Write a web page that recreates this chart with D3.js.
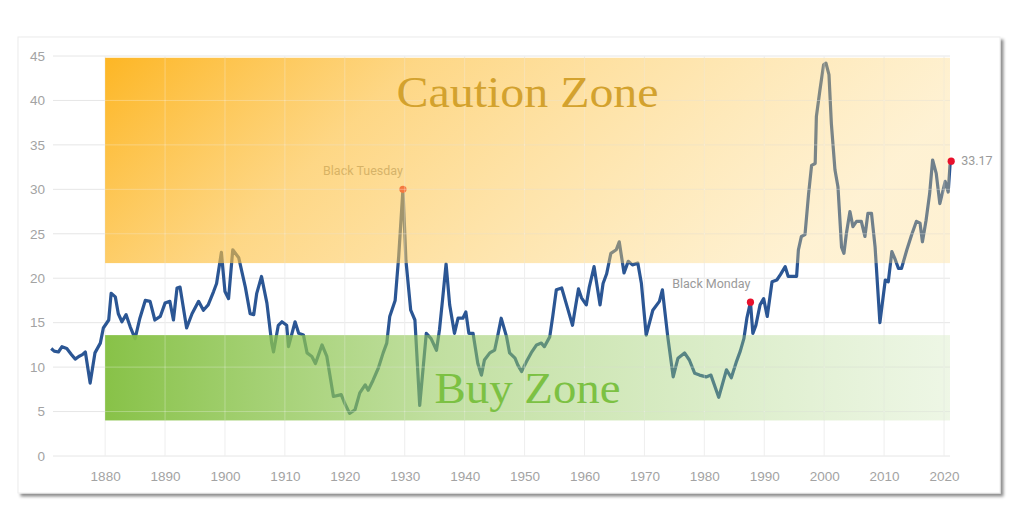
<!DOCTYPE html>
<html>
<head>
<meta charset="utf-8">
<script src="https://cdn.jsdelivr.net/npm/d3@7"></script>
<style>
  body { margin: 0; background: #fff; }
  svg { display: block; }
</style>
</head>
<body>
<script>
// CAPE ratio
var years = [
  1871.0, 1871.5, 1872.2, 1872.8, 1873.6, 1874.4, 1875.0, 1875.6, 1876.2, 1876.7,
  1877.5, 1878.3, 1879.2, 1879.7, 1880.6, 1881.0, 1881.7, 1882.2, 1882.8, 1883.5,
  1884.2, 1885.0, 1885.8, 1886.7, 1887.5, 1888.3, 1889.2, 1890.0, 1890.8, 1891.4,
  1892.0, 1892.5, 1893.6, 1894.5, 1895.6, 1896.4, 1897.2, 1898.1, 1898.6, 1899.4,
  1900.0, 1900.6, 1901.3, 1902.3, 1903.4, 1904.2, 1904.8, 1905.3, 1906.1, 1907.0,
  1907.8, 1908.1, 1908.9, 1909.5, 1910.3, 1910.6, 1911.7, 1912.3, 1913.1, 1913.7,
  1914.5, 1915.1, 1916.2, 1917.0, 1918.1, 1919.4, 1920.0, 1920.8, 1921.7, 1922.5,
  1923.4, 1923.9, 1924.7, 1925.6, 1926.4, 1927.0, 1927.5, 1928.4, 1929.0, 1929.7,
  1930.2, 1931.0, 1931.7, 1932.5, 1933.6, 1934.4, 1935.3, 1935.8, 1936.3, 1936.9,
  1937.5, 1938.3, 1938.9, 1939.7, 1940.2, 1940.7, 1941.4, 1942.2, 1942.8, 1943.3,
  1944.2, 1945.0, 1945.6, 1946.1, 1947.0, 1947.5, 1948.4, 1948.9, 1949.5, 1950.3,
  1951.1, 1952.0, 1952.8, 1953.3, 1954.2, 1954.7, 1955.3, 1956.2, 1957.1, 1958.0,
  1958.5, 1959.0, 1959.5, 1960.3, 1960.8, 1961.6, 1962.6, 1963.1, 1963.7, 1964.4,
  1965.3, 1965.8, 1966.6, 1967.3, 1968.0, 1968.9, 1969.5, 1970.3, 1971.4, 1972.5,
  1973.0, 1973.9, 1974.8, 1975.6, 1976.7, 1977.5, 1978.4, 1979.2, 1980.3, 1981.1,
  1982.4, 1983.7, 1984.5, 1985.3, 1986.0, 1986.6, 1987.1, 1987.7, 1988.1, 1988.6,
  1989.3, 1989.9, 1990.5, 1991.3, 1992.1, 1992.7, 1993.5, 1994.0, 1994.6, 1995.4,
  1995.7, 1996.2, 1996.8, 1997.4, 1997.9, 1998.5, 1998.7, 1999.3, 1999.9, 2000.3,
  2000.8, 2001.2, 2001.8, 2002.3, 2002.9, 2003.3, 2003.7, 2004.3, 2004.8, 2005.4,
  2006.2, 2006.8, 2007.3, 2007.9, 2008.5, 2009.3, 2010.2, 2010.7, 2011.3, 2011.8,
  2012.4, 2012.9, 2013.8, 2014.6, 2015.4, 2016.0, 2016.4, 2017.0, 2017.6, 2018.1,
  2018.7, 2019.3, 2020.2, 2020.7, 2021.0, 2021.2
];
var cape = [
  12.1, 11.8, 11.7, 12.3, 12.1, 11.4, 10.9, 11.2, 11.4, 11.7,
  8.2, 11.6, 12.7, 14.4, 15.3, 18.3, 17.9, 16.0, 15.1, 15.9,
  14.5, 13.2, 15.5, 17.5, 17.4, 15.3, 15.7, 17.2, 17.4, 15.3,
  18.9, 19.0, 14.4, 16.0, 17.4, 16.4, 17.0, 18.5, 19.4, 22.9,
  18.5, 17.7, 23.2, 22.3, 19.0, 16.0, 15.9, 18.3, 20.2, 17.2,
  12.7, 11.7, 14.7, 15.1, 14.7, 12.3, 15.1, 13.8, 13.6, 11.6,
  11.2, 10.4, 12.5, 11.2, 6.7, 6.9, 5.9, 4.8, 5.2, 7.1,
  8.0, 7.4, 8.5, 9.9, 11.6, 12.7, 15.7, 17.5, 22.5, 30.0,
  22.0, 16.4, 15.3, 5.7, 13.8, 13.2, 11.9, 14.2, 17.5, 21.6,
  17.0, 13.8, 15.5, 15.5, 16.2, 13.8, 13.8, 10.4, 9.1, 10.8,
  11.6, 11.9, 13.8, 15.5, 13.4, 11.6, 11.0, 10.2, 9.5, 10.6,
  11.6, 12.5, 12.7, 12.3, 13.4, 15.7, 18.7, 18.9, 16.8, 14.7,
  16.8, 18.8, 17.8, 17.0, 19.0, 21.3, 17.0, 19.4, 20.5, 22.8,
  23.2, 24.1, 20.6, 21.9, 21.5, 21.7, 19.4, 13.6, 16.4, 17.4,
  18.7, 13.4, 8.9, 11.0, 11.6, 10.8, 9.3, 9.1, 8.9, 9.1,
  6.6, 9.7, 8.8, 10.5, 11.8, 13.2, 15.5, 17.3, 13.8, 14.7,
  17.0, 17.7, 15.7, 19.6, 19.8, 20.4, 21.3, 20.2, 20.2, 20.2,
  23.2, 24.7, 24.9, 29.5, 32.7, 32.9, 38.2, 41.2, 44.0, 44.2,
  42.9, 37.4, 32.2, 30.3, 23.5, 22.8, 25.0, 27.5, 25.8, 26.4,
  26.4, 24.7, 27.3, 27.3, 23.5, 15.0, 19.8, 19.6, 23.0, 22.2,
  21.1, 21.1, 23.2, 24.9, 26.4, 26.2, 24.1, 26.5, 29.5, 33.3,
  31.8, 28.4, 30.9, 29.7, 32.7, 33.17
];
var xTicks = [1880, 1890, 1900, 1910, 1920, 1930, 1940, 1950, 1960, 1970, 1980, 1990, 2000, 2010, 2020];
var yTicks = [0, 5, 10, 15, 20, 25, 30, 35, 40, 45];
var events = [
  { label: "Black Tuesday", year: 1929.7, value: 30.0 },
  { label: "Black Monday", year: 1987.7, value: 17.3 }
];
var cautionZone = [1880, 2021, 21.7, 44.8];   // x0, x1, y0, y1
var buyZone = [1880, 2021, 4.0, 13.6];

var width = 1024, height = 515;

var x = d3.scaleLinear().domain([1871.3, 2021]).range([53, 950]);
var y = d3.scaleLinear().domain([0, 45]).range([456, 56]);

var svg = d3.select("body").append("svg")
    .attr("width", width)
    .attr("height", height);

var defs = svg.append("defs");

var shadow = defs.append("filter").attr("id", "shadow")
    .attr("x", "-5%").attr("y", "-5%").attr("width", "110%").attr("height", "115%");
shadow.append("feDropShadow")
    .attr("dx", 3).attr("dy", 3).attr("stdDeviation", 1.8)
    .attr("flood-color", "#000").attr("flood-opacity", 0.45);

var gCaution = defs.append("linearGradient").attr("id", "caution")
    .attr("x1", 0).attr("y1", 0).attr("x2", 1).attr("y2", 0.25);
gCaution.append("stop").attr("offset", "0%").attr("stop-color", "#fdb41e").attr("stop-opacity", 0.97);
gCaution.append("stop").attr("offset", "35%").attr("stop-color", "#fdc040").attr("stop-opacity", 0.64);
gCaution.append("stop").attr("offset", "100%").attr("stop-color", "#fdd67a").attr("stop-opacity", 0.33);

var gBuy = defs.append("linearGradient").attr("id", "buy")
    .attr("x1", 0).attr("y1", 0).attr("x2", 1).attr("y2", 0);
gBuy.append("stop").attr("offset", "0%").attr("stop-color", "#84c042").attr("stop-opacity", 0.97);
gBuy.append("stop").attr("offset", "40%").attr("stop-color", "#93c85a").attr("stop-opacity", 0.57);
gBuy.append("stop").attr("offset", "100%").attr("stop-color", "#a8d47e").attr("stop-opacity", 0.2);

// card
svg.append("rect")
    .attr("x", 18).attr("y", 37)
    .attr("width", 982).attr("height", 456)
    .attr("fill", "#fff")
    .attr("stroke", "#ececec")
    .attr("filter", "url(#shadow)");

// grid
var grid = svg.append("g");
grid.selectAll(".hgrid")
    .data(yTicks)
    .enter()
    .append("line")
    .attr("class", "hgrid")
    .attr("x1", x.range()[0]).attr("x2", x.range()[1])
    .attr("y1", function(d) { return y(d); })
    .attr("y2", function(d) { return y(d); })
    .attr("stroke", "#e6e6e6");
grid.selectAll(".vgrid")
    .data(xTicks)
    .enter()
    .append("line")
    .attr("class", "vgrid")
    .attr("x1", function(d) { return x(d); })
    .attr("x2", function(d) { return x(d); })
    .attr("y1", y(45)).attr("y2", y(0))
    .attr("stroke", "#eeeeee");

// axes labels
svg.append("g")
    .attr("transform", "translate(0," + y(0) + ")")
    .call(d3.axisBottom(x).tickValues(xTicks).tickFormat(d3.format("d")).tickSize(0).tickPadding(15))
    .call(function(g) { g.select(".domain").remove(); })
    .selectAll("text")
    .attr("fill", "#a3a3a3")
    .style("font-family", "'Liberation Sans', Arial, sans-serif")
    .style("font-size", "13.5px");

svg.append("g")
    .attr("transform", "translate(45,0)")
    .call(d3.axisLeft(y).tickValues(yTicks).tickSize(0).tickPadding(0))
    .call(function(g) { g.select(".domain").remove(); })
    .selectAll("text")
    .attr("fill", "#a3a3a3")
    .style("font-family", "'Liberation Sans', Arial, sans-serif")
    .style("font-size", "13.5px");

var data = years.map(function(yr, i) { return { year: yr, value: cape[i] }; });

var line = d3.line()
    .x(function(d) { return x(d.year); })
    .y(function(d) { return y(d.value); });

svg.append("path")
    .datum(data)
    .attr("d", line)
    .attr("fill", "none")
    .attr("stroke", "#2b5694")
    .attr("stroke-width", 3.2)
    .attr("stroke-linejoin", "round");

// event markers (drawn under the zones)
function drawEvent(ev) {
    svg.append("circle")
        .attr("cx", x(ev.year)).attr("cy", y(ev.value))
        .attr("r", 3.6)
        .attr("fill", "#e8102c");
    svg.append("text")
        .attr("x", x(ev.year)).attr("y", y(ev.value) - 14)
        .attr("text-anchor", "end")
        .attr("fill", "#9a9a9a")
        .style("font-family", "Roboto, sans-serif")
        .style("font-size", "12.5px")
        .text(ev.label);
}
drawEvent(events[0]);

// zones
svg.append("rect")
    .attr("x", x(cautionZone[0])).attr("y", y(cautionZone[3]))
    .attr("width", x(cautionZone[1]) - x(cautionZone[0]))
    .attr("height", y(cautionZone[2]) - y(cautionZone[3]))
    .attr("fill", "url(#caution)");
svg.append("rect")
    .attr("x", x(buyZone[0])).attr("y", y(buyZone[3]))
    .attr("width", x(buyZone[1]) - x(buyZone[0]))
    .attr("height", y(buyZone[2]) - y(buyZone[3]))
    .attr("fill", "url(#buy)");

// faint light grid through the zones
var zoneGrid = svg.append("g").attr("stroke", "#fff").attr("stroke-opacity", 0.3);
[cautionZone, buyZone].forEach(function(z) {
    zoneGrid.selectAll(null)
        .data(yTicks.filter(function(t) { return t > z[2] && t < z[3]; }))
        .enter().append("line")
        .attr("x1", x(z[0])).attr("x2", x(z[1]))
        .attr("y1", function(d) { return y(d); })
        .attr("y2", function(d) { return y(d); });
    zoneGrid.selectAll(null)
        .data(xTicks.filter(function(t) { return t > z[0] && t < z[1]; }))
        .enter().append("line")
        .attr("x1", function(d) { return x(d); })
        .attr("x2", function(d) { return x(d); })
        .attr("y1", y(z[3])).attr("y2", y(z[2]));
});

svg.append("text")
    .attr("x", (x(cautionZone[0]) + x(cautionZone[1])) / 2)
    .attr("y", 107)
    .attr("text-anchor", "middle")
    .attr("fill", "#d3a22e")
    .attr("textLength", 262)
    .attr("lengthAdjust", "spacingAndGlyphs")
    .style("font-family", "'Liberation Serif', 'DejaVu Serif', serif")
    .style("font-size", "45px")
    .text("Caution Zone");

svg.append("text")
    .attr("x", (x(buyZone[0]) + x(buyZone[1])) / 2)
    .attr("y", 403)
    .attr("text-anchor", "middle")
    .attr("fill", "#7cc143")
    .attr("textLength", 186)
    .attr("lengthAdjust", "spacingAndGlyphs")
    .style("font-family", "'Liberation Serif', 'DejaVu Serif', serif")
    .style("font-size", "44px")
    .text("Buy Zone");

drawEvent(events[1]);

// last value
var last = data[data.length - 1];
svg.append("circle")
    .attr("cx", x(last.year)).attr("cy", y(last.value))
    .attr("r", 3.6)
    .attr("fill", "#e8102c");
svg.append("text")
    .attr("x", x(last.year) + 10).attr("y", y(last.value) + 4)
    .attr("fill", "#9a9a9a")
    .style("font-family", "Roboto, sans-serif")
    .style("font-size", "12.5px")
    .text(d3.format(".2f")(last.value));
</script>
</body>
</html>
